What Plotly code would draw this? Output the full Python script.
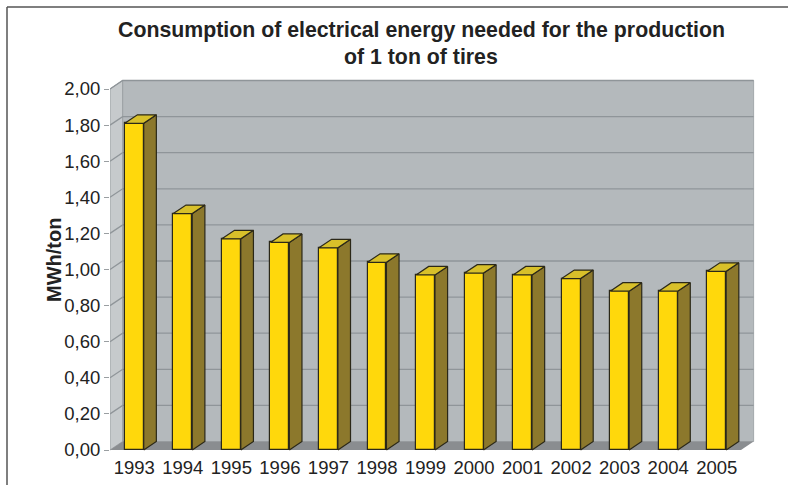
import plotly.graph_objects as go

# Data
years = ["1993", "1994", "1995", "1996", "1997", "1998", "1999",
         "2000", "2001", "2002", "2003", "2004", "2005"]
mwh_per_ton = [1.81, 1.31, 1.17, 1.15, 1.12, 1.04, 0.97,
               0.98, 0.97, 0.95, 0.88, 0.88, 0.99]
y_ticks = [0.0, 0.2, 0.4, 0.6, 0.8, 1.0, 1.2, 1.4, 1.6, 1.8, 2.0]
y_tick_text = ["0,00", "0,20", "0,40", "0,60", "0,80", "1,00",
               "1,20", "1,40", "1,60", "1,80", "2,00"]

# Pseudo-3D geometry (in data units)
DX, DY = 0.26, 0.047     # depth offset for bars and walls
BAR_W = 0.39
X0, X1 = -0.5, len(years) - 0.5
YMAX = 2.0

FRONT = "#FFD80C"
SIDE = "#8C782C"
TOP = "#D8C02A"
EDGE = "#2B2818"
WALL = "#B4B9BC"
LWALL = "#C6CACC"
FLOOR = "#8A8D90"
GRID = "#8F9599"

fig = go.Figure()


def path(pts):
    return "M " + " L ".join(f"{x},{y}" for x, y in pts) + " Z"


# Walls, floor and gridlines (drawn beneath the columns)
shapes = [
    dict(type="path", xref="x", yref="y", layer="below",
         path=path([(X0 + DX, DY), (X1 + DX, DY), (X1 + DX, YMAX + DY), (X0 + DX, YMAX + DY)]),
         fillcolor=WALL, line=dict(color="#A3A8AB", width=1)),
    dict(type="path", xref="x", yref="y", layer="below",
         path=path([(X0, 0), (X0 + DX, DY), (X0 + DX, YMAX + DY), (X0, YMAX)]),
         fillcolor=LWALL, line=dict(color="#9CA1A4", width=1)),
    dict(type="path", xref="x", yref="y", layer="below",
         path=path([(X0, 0), (X1, 0), (X1 + DX, DY), (X0 + DX, DY)]),
         fillcolor=FLOOR, line=dict(width=0)),
]
for v in y_ticks[1:]:
    shapes.append(dict(type="path", xref="x", yref="y", layer="below",
                       path=f"M {X0},{v} L {X0 + DX},{v + DY} L {X1 + DX},{v + DY}",
                       line=dict(color=GRID, width=1.3)))

# Front faces of the columns
xs = list(range(len(years)))
fig.add_trace(go.Bar(x=xs, y=mwh_per_ton, width=BAR_W, marker_color=FRONT,
                     marker_line=dict(color=EDGE, width=1.2),
                     hoverinfo="skip", showlegend=False))

# Side and top faces
sx, sy, tx, ty = [], [], [], []
for i, v in enumerate(mwh_per_ton):
    r = i + BAR_W / 2
    l = i - BAR_W / 2
    sx += [r, r + DX, r + DX, r, r, None]
    sy += [0, DY, v + DY, v, 0, None]
    tx += [l, r, r + DX, l + DX, l, None]
    ty += [v, v, v + DY, v + DY, v, None]
fig.add_trace(go.Scatter(x=sx, y=sy, mode="lines", fill="toself", fillcolor=SIDE,
                         line=dict(color=EDGE, width=1.2), hoverinfo="skip", showlegend=False))
fig.add_trace(go.Scatter(x=tx, y=ty, mode="lines", fill="toself", fillcolor=TOP,
                         line=dict(color=EDGE, width=1.2), hoverinfo="skip", showlegend=False))

W, H = 788, 485
L, R, T, B = 110, 28, 75, 33
px_per_x = (741 - 110) / len(years)
px_per_y = 180.5
x_range = [X0, X0 + (W - L - R) / px_per_x]
y_range = [-2 / px_per_y, (450 - T) / px_per_y]
PW, PH = W - L - R, H - T - B

font = "Liberation Sans, Arial, Helvetica, sans-serif"

shapes += [
    dict(type="line", xref="paper", yref="paper",
         x0=(7 - L) / PW, x1=(W - L) / PW,
         y0=1 + (T - 7) / PH, y1=1 + (T - 7) / PH,
         line=dict(color="#555555", width=1.5)),
    dict(type="line", xref="paper", yref="paper",
         x0=(7 - L) / PW, x1=(7 - L) / PW,
         y0=1 + (T - 7) / PH, y1=-B / PH,
         line=dict(color="#555555", width=1.5)),
]

fig.update_layout(
    width=W, height=H,
    margin=dict(l=L, r=R, t=T, b=B),
    paper_bgcolor="white", plot_bgcolor="white",
    font=dict(family=font, color="#222222", size=18),
    bargap=0,
    xaxis=dict(range=x_range, tickmode="array", tickvals=xs, ticktext=years,
               showgrid=False, zeroline=False, showline=False, ticks="",
               tickfont=dict(size=18.5), automargin=False, ticklabelstandoff=2),
    yaxis=dict(range=y_range, tickmode="array", tickvals=y_ticks, ticktext=y_tick_text,
               showgrid=False, zeroline=False, showline=False,
               ticks="outside", ticklen=5, tickcolor="#9a9fa2",
               tickfont=dict(size=18.5), automargin=False),
    annotations=[
        dict(text="<b>Consumption of electrical energy needed for the production</b>",
             xref="paper", yref="paper", x=(421 - L) / PW, y=1 + (T - 30) / PH,
             xanchor="center", yanchor="middle", showarrow=False, font=dict(size=21.3)),
        dict(text="<b>of 1 ton of tires</b>",
             xref="paper", yref="paper", x=(421 - L) / PW, y=1 + (T - 57) / PH,
             xanchor="center", yanchor="middle", showarrow=False, font=dict(size=21.3)),
        dict(text="<b>MWh/ton</b>", textangle=-90,
             xref="paper", yref="paper", x=(54 - L) / PW, y=(H - B - 260) / PH,
             xanchor="center", yanchor="middle", showarrow=False, font=dict(size=20)),
    ],
    shapes=shapes,
)

fig.write_html("out.html")
